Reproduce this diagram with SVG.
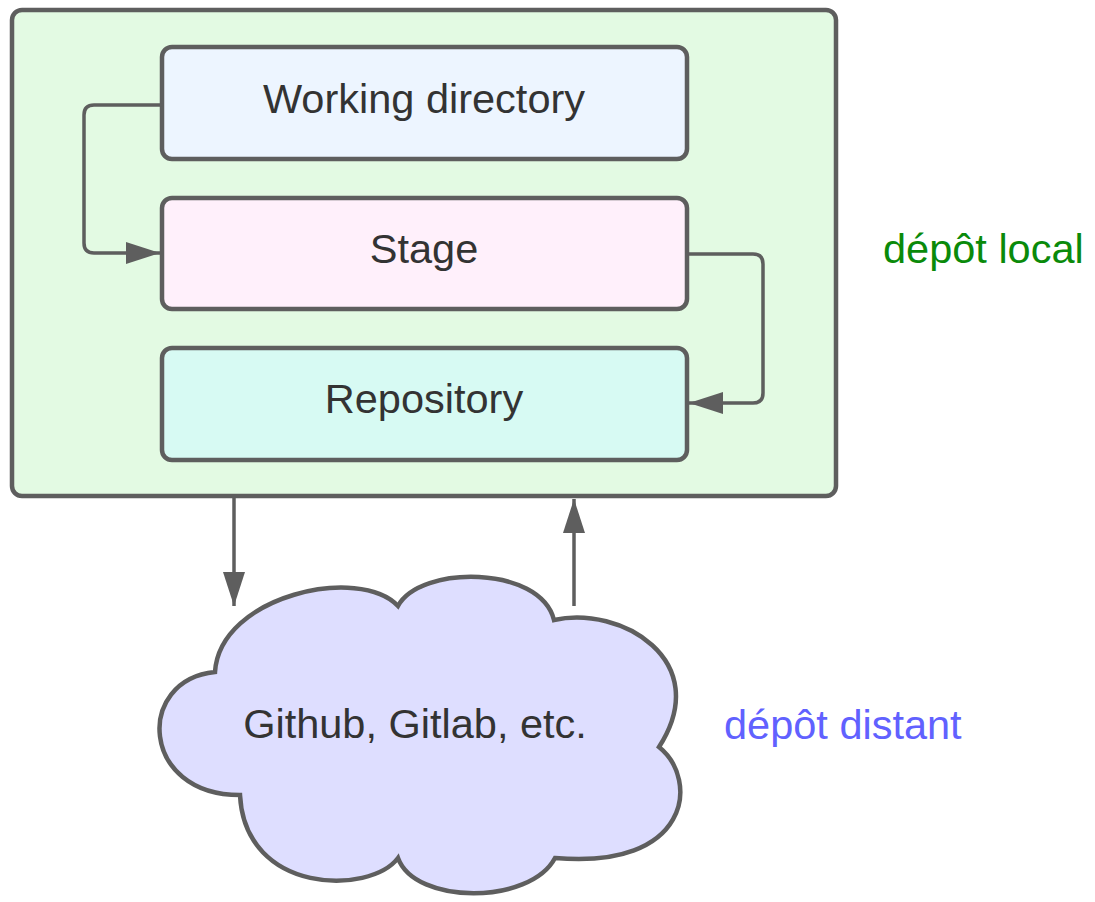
<svg xmlns="http://www.w3.org/2000/svg" width="1095" height="902" viewBox="0 0 1095 902">
<defs>
<style>
.box{stroke:#5e5e5e;stroke-width:4.5}
.lbl{font-family:"Liberation Sans",Arial,sans-serif;font-size:41.5px;fill:#333333;text-anchor:middle}
.side{font-family:"Liberation Sans",Arial,sans-serif;font-size:41.5px}
.conn{fill:none;stroke:#5e5e5e;stroke-width:3.5}
</style>
<marker id="arr" viewBox="0 0 34 22" refX="34" refY="11" markerWidth="34" markerHeight="22" markerUnits="userSpaceOnUse" orient="auto">
<path d="M0,0 L34,11 L0,22 Z" fill="#5e5e5e"/>
</marker>
</defs>
<rect width="1095" height="902" fill="#ffffff"/>
<g id="local">
<rect class="box" x="12" y="10" width="824" height="486" rx="10" fill="#e3fae3"/>
</g>
<g id="working">
<rect class="box" x="162" y="47" width="525" height="112" rx="10" fill="#edf5ff"/>
<text class="lbl" x="424" y="113">Working directory</text>
</g>
<g id="stage">
<rect class="box" x="162" y="198" width="525" height="111" rx="10" fill="#fff0fb"/>
<text class="lbl" x="424" y="263">Stage</text>
</g>
<g id="repository">
<rect class="box" x="162" y="348" width="525" height="112" rx="10" fill="#d7faf3"/>
<text class="lbl" x="424" y="413">Repository</text>
</g>
<g id="remote">
<path class="box" fill="#dedeff" d="M215,672 C220,595 360,565 398,606 C420,565 540,565 554,620 C620,605 715,660 659,747 C700,780 690,870 555,858 C530,905 415,905 398,858 C370,895 245,895 240,795 C140,795 135,680 215,672 Z"/>
<text class="lbl" x="415" y="738">Github, Gitlab, etc.</text>
</g>
<g id="labels">
<text class="side" x="883" y="263" fill="#0a8a0a">dépôt local</text>
<text class="side" x="724" y="739" fill="#6161ff">dépôt distant</text>
</g>
<g id="connectors">
<path class="conn" d="M162,105 H94 Q84,105 84,115 V243 Q84,253 94,253 H160" marker-end="url(#arr)"/>
<path class="conn" d="M687,254 H753 Q763,254 763,264 V393 Q763,403 753,403 H689" marker-end="url(#arr)"/>
<path class="conn" d="M234,498 V606" marker-end="url(#arr)"/>
<path class="conn" d="M574,606 V499" marker-end="url(#arr)"/>
</g>
</svg>
